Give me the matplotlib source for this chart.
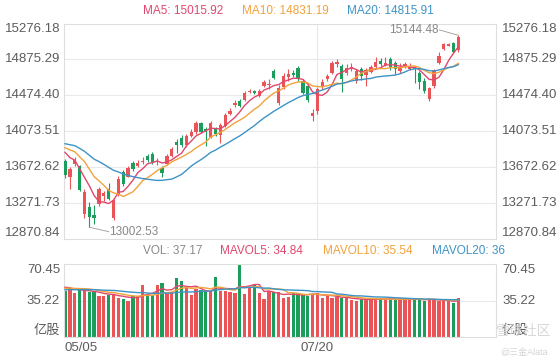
import matplotlib
matplotlib.use("Agg")
import matplotlib.pyplot as plt
from matplotlib.transforms import blended_transform_factory
import numpy as np
import pandas as pd

plt.rcParams['font.family'] = ['Liberation Sans', 'Noto Sans CJK SC', 'DejaVu Sans']

# daily candles, 05/05 .. last day
opens = [13746, 13558, 13713, 13691, 13147, 13224, 13136, 13258, 13346, 13424,
         13102, 13369, 13624, 13568, 13724, 13691, 13735, 13802, 13824, 13735,
         13668, 13713, 13802, 13957, 14001, 13924, 14024, 14068, 14168, 14101,
         14012, 14101, 14035, 14135, 14268, 14368, 14412, 14423, 14512, 14523,
         14468, 14579, 14590, 14745, 14390, 14568, 14679, 14723, 14779, 14634,
         14579, 14246, 14301, 14568, 14657, 14723, 14823, 14801, 14723, 14768,
         14634, 14768, 14701, 14734, 14790, 14856, 14815, 14879, 14834, 14745,
         14801, 14770, 14790, 14723, 14634, 14429, 14579, 14838, 14990, 15030,
         15056, 14978]
highs = [13765, 13680, 13791, 13702, 13430, 13280, 13247, 13446, 13402, 13491,
         13313, 13569, 13646, 13691, 13746, 13757, 13791, 13824, 13846, 13780,
         13691, 13824, 13902, 13990, 14035, 14046, 14101, 14190, 14179, 14124,
         14190, 14124, 14168, 14279, 14335, 14423, 14435, 14523, 14545, 14534,
         14545, 14645, 14656, 14768, 14590, 14723, 14768, 14757, 14801, 14656,
         14601, 14323, 14568, 14656, 14712, 14856, 14879, 14823, 14823, 14834,
         14768, 14790, 14779, 14812, 14901, 14890, 14901, 14901, 14856, 14834,
         14845, 14834, 14801, 14745, 14668, 14570, 14770, 14960, 15060, 15060,
         15070, 15144.48]
lows = [13556, 13424, 13691, 13402, 13102, 13002.53, 13035, 13236, 13291, 13302,
        13080, 13346, 13457, 13558, 13635, 13680, 13713, 13735, 13713, 13702,
        13558, 13702, 13791, 13835, 13902, 13902, 14012, 14046, 14057, 13913,
        14001, 14024, 13946, 14124, 14257, 14346, 14346, 14412, 14501, 14490,
        14457, 14568, 14545, 14656, 14370, 14545, 14634, 14679, 14634, 14490,
        14401, 14190, 14268, 14545, 14634, 14712, 14790, 14512, 14701, 14745,
        14612, 14645, 14579, 14723, 14779, 14801, 14800, 14757, 14712, 14723,
        14779, 14760, 14612, 14545, 14501, 14412, 14560, 14820, 14980, 15020,
        14945, 14960]
closes = [13580, 13657, 13757, 13413, 13391, 13113, 13105, 13424, 13380, 13313,
          13302, 13535, 13480, 13668, 13657, 13724, 13746, 13757, 13735, 13746,
          13613, 13802, 13879, 13924, 13924, 14024, 14068, 14168, 14068, 14068,
          14168, 14046, 14146, 14257, 14301, 14390, 14357, 14501, 14523, 14501,
          14523, 14623, 14601, 14668, 14557, 14690, 14712, 14701, 14657, 14501,
          14423, 14279, 14545, 14623, 14690, 14834, 14845, 14657, 14779, 14790,
          14745, 14690, 14757, 14790, 14850, 14823, 14840, 14779, 14768, 14790,
          14823, 14786, 14769, 14627, 14523, 14557, 14760, 14911, 15045, 15045,
          14956, 15123]
# volume, 亿股
volumes = [44.5, 47.6, 42.5, 45.4, 44.5, 43.5, 43.5, 39.5, 39.5, 40.9,
           41.8, 37.9, 36.4, 35.0, 39.5, 39.5, 50.0, 40.9, 40.9, 50.0,
           52.0, 42.5, 43.1, 56.9, 54.5, 47.0, 40.9, 46.0, 45.4, 44.0,
           44.0, 58.1, 44.0, 44.0, 43.1, 42.5, 70.45, 41.8, 48.5, 50.0,
           42.5, 37.0, 44.0, 43.1, 43.1, 37.9, 38.8, 42.5, 42.5, 40.9,
           39.5, 41.8, 42.5, 37.9, 40.0, 37.5, 38.5, 38.0, 37.5, 36.0,
           35.0, 36.5, 36.5, 37.0, 36.5, 36.5, 36.5, 37.0, 36.5, 36.5,
           35.5, 36.1, 37.0, 36.5, 35.0, 37.0, 35.7, 35.0, 34.5, 34.5,
           33.0, 37.17]
# days before 05/05 (off screen, only feed the moving averages)
hist_closes = [13900, 13950, 14020, 14050, 14000, 13980, 13960, 14000, 13990, 13950,
               13900, 13960, 13980, 13920, 13950, 13950, 13900, 13880, 13880]
hist_volumes = [43, 45, 44, 42, 46, 44, 43, 45, 44, 44,
                46, 45, 47, 46, 46, 50, 49, 48, 48.5]

price_ticks = ["15276.18", "14875.29", "14474.40", "14073.51", "13672.62", "13271.73", "12870.84"]
vol_ticks = ["70.45", "35.22", "亿股"]
date_labels = {0: "05/05", 52: "07/20"}
ma_labels = ["MA5: 15015.92", "MA10: 14831.19", "MA20: 14815.91"]
vol_labels = ["VOL: 37.17", "MAVOL5: 34.84", "MAVOL10: 35.54", "MAVOL20: 36"]

RED, GREEN = "#ea5457", "#1b9d5c"
MA_COLORS = ["#e0476e", "#f2a23a", "#3d93c6"]
GRID = "#e9e9e9"
TXT = "#5c5c5c"

n = len(closes)
x = np.arange(n)
o, h, l, c = map(np.array, (opens, highs, lows, closes))
up = c >= o
cols = np.where(up, RED, GREEN)

all_c = pd.Series(hist_closes + closes)
all_v = pd.Series(hist_volumes + volumes)
ma = [all_c.rolling(k).mean().values[-n:] for k in (5, 10, 20)]
mavol = [all_v.rolling(k).mean().values[-n:] for k in (5, 10, 20)]

W, H = 560, 360
fig = plt.figure(figsize=(W / 100, H / 100), dpi=100)
left, right = 64.3, 496
vtop, vbot = 264, 337
ax_p = fig.add_axes([left / W, 1 - 239 / H, (right - left) / W, (239 - 23.5) / H])
ax_v = fig.add_axes([left / W, 1 - vbot / H, (right - left) / W, (vbot - vtop) / H])

pitch = (458.3 - 65) / (n - 1)
xlim = (-(65 - left) / pitch, n - 1 + (right - 458.3) / pitch)
pmin, pmax = float(price_ticks[-1]), float(price_ticks[0])

for ax in (ax_p, ax_v):
    ax.set_xlim(*xlim)
    ax.set_xticks([])
    ax.set_yticks([])
    for s in ax.spines.values():
        s.set_color("#dedede")
        s.set_linewidth(0.8)
    ax.axvline(52, color=GRID, lw=0.8, zorder=0)

# price panel
ax_p.set_ylim(pmin, pmax)
for t in price_ticks[1:-1]:
    ax_p.axhline(float(t), color=GRID, lw=0.8, zorder=0)
ax_p.vlines(x, l, h, colors=cols, lw=0.8, zorder=2)
body = np.maximum(np.abs(c - o), 8)
ax_p.bar(x, body, bottom=np.minimum(o, c), width=0.68, color=cols, zorder=3)
for m, col in zip(ma, MA_COLORS):
    ax_p.plot(x, m, color=col, lw=1.0, zorder=4)

# min / max markers
imin, imax = int(np.argmin(l)), int(np.argmax(h))
ax_p.plot([imin, imin + 4.0], [l[imin], l[imin] - 50], color="#9a9a9a", lw=0.6)
ax_p.text(imin + 4.1, l[imin] - 50, f"{l[imin]:.2f}", color="#888888", fontsize=8.5,
          va="center", ha="left")
ax_p.plot([imax, imax - 3.9], [h[imax], h[imax] + 60], color="#9a9a9a", lw=0.6)
ax_p.text(imax - 4.0, h[imax] + 60, f"{h[imax]:.2f}", color="#888888", fontsize=8.5,
          va="center", ha="right")

tr_p = blended_transform_factory(ax_p.transAxes, ax_p.transData)
for k, t in enumerate(price_ticks):
    va = "top" if k == 0 else ("bottom" if k == len(price_ticks) - 1 else "center")
    ax_p.text(-0.01, float(t), t, transform=tr_p, ha="right", va=va, fontsize=9.5, color=TXT)
    ax_p.text(1.014, float(t), t, transform=tr_p, ha="left", va=va, fontsize=9.5, color=TXT)

# volume panel
vmax = float(vol_ticks[0])
ax_v.set_ylim(0, vmax)
ax_v.axhline(float(vol_ticks[1]), color=GRID, lw=0.8, zorder=0)
ax_v.bar(x, volumes, width=0.68, color=cols, zorder=2)
for m, col in zip(mavol, MA_COLORS):
    ax_v.plot(x, m, color=col, lw=1.0, zorder=3)

tr_v = blended_transform_factory(ax_v.transAxes, ax_v.transData)
vpos = [(vmax, "top"), (float(vol_ticks[1]), "center"), (0.5, "bottom")]
for t, (yv, va) in zip(vol_ticks, vpos):
    ax_v.text(-0.01, yv, t, transform=tr_v, ha="right", va=va, fontsize=9.5, color=TXT)
    ax_v.text(1.014, yv, t, transform=tr_v, ha="left", va=va, fontsize=9.5, color=TXT)

tr_d = blended_transform_factory(ax_v.transData, ax_v.transAxes)
for i, lab in date_labels.items():
    xi = xlim[0] if i == 0 else i
    ax_v.text(xi, -(348 - vbot) / (vbot - vtop), lab, transform=tr_d,
              ha="left" if i == 0 else "center", va="center", fontsize=9.5, color=TXT)

# headers
for lab, xp, col in zip(ma_labels, (143, 242, 347), MA_COLORS):
    fig.text(xp / W, 1 - 10.7 / H, lab, color=col, fontsize=8.5, va="center")
for lab, xp, col in zip(vol_labels, (143, 220, 323, 432), ["#8a8a8a"] + MA_COLORS):
    fig.text(xp / W, 1 - 250.7 / H, lab, color=col, fontsize=8.5, va="center")

# watermark
fig.text(496 / W, 1 - 331 / H, "雪球社区", color="#d4d4d4", fontsize=10, va="center", alpha=0.9)
fig.text(500 / W, 1 - 352 / H, "@三金Alata", color="#d4d4d4", fontsize=6.5, va="center")

fig.savefig("out.png", dpi=100)
